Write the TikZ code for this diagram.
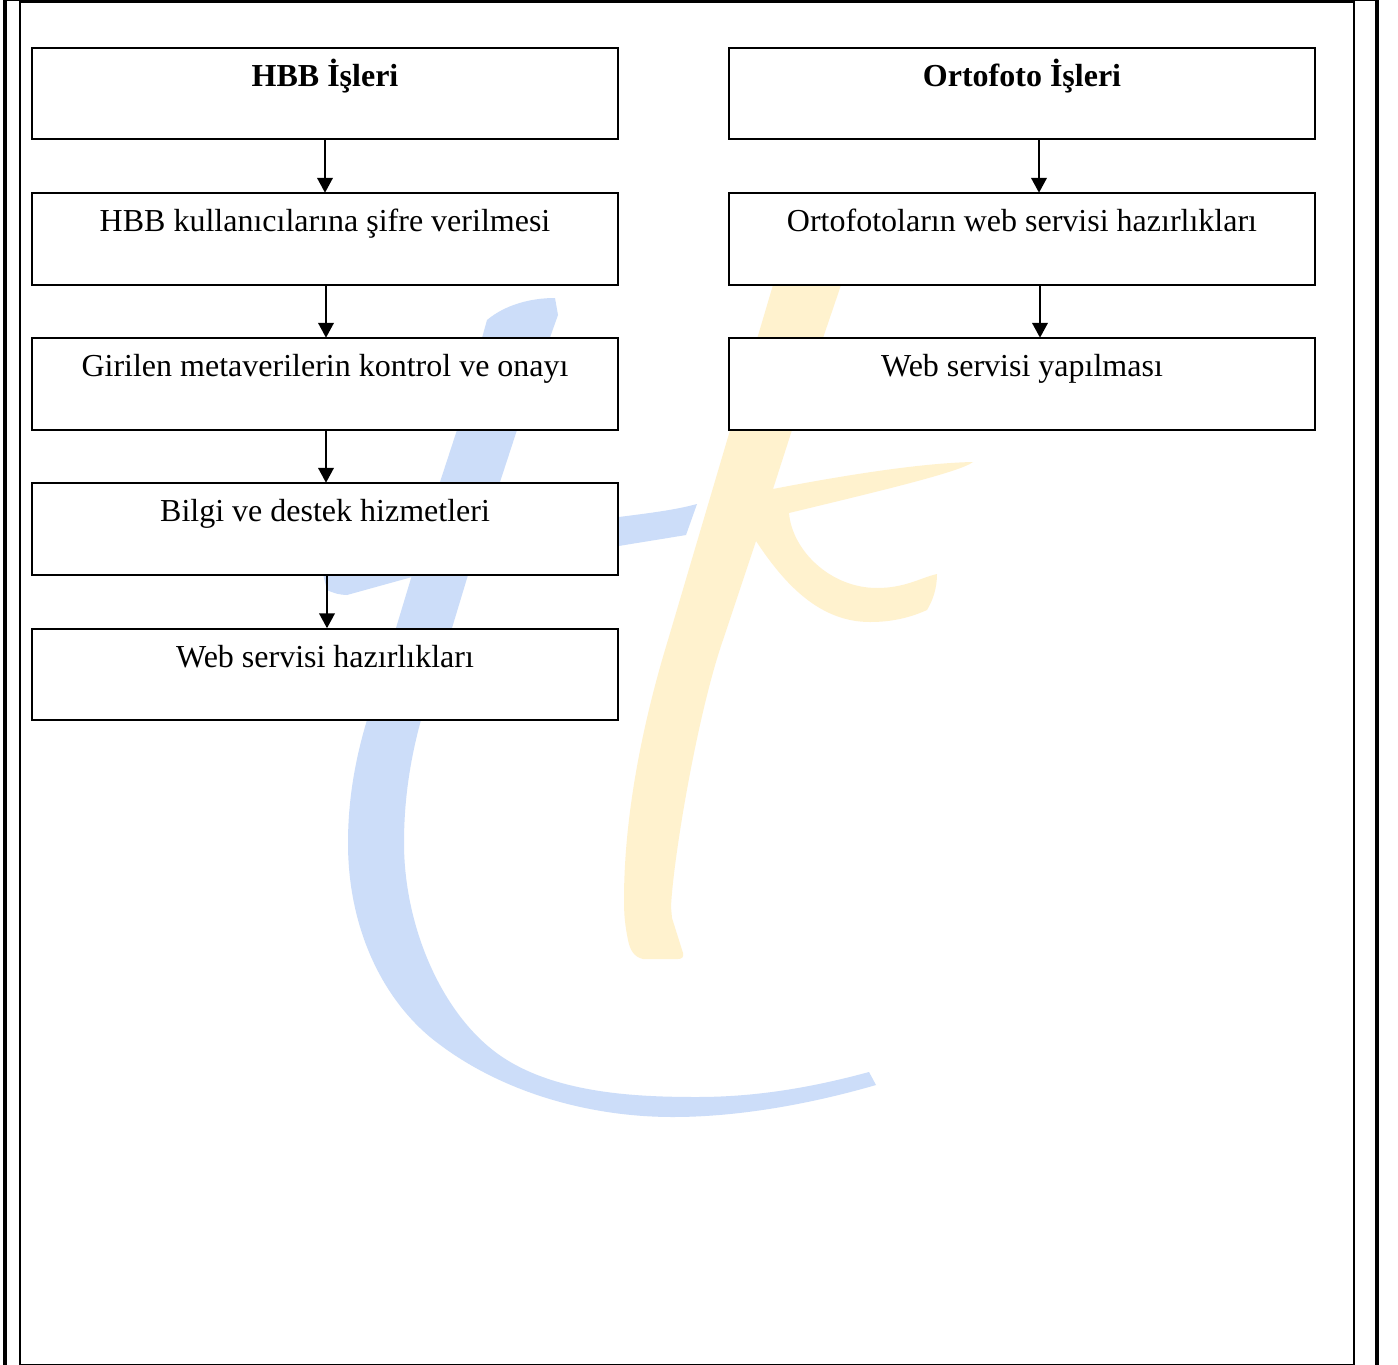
\documentclass[tikz,border=0pt]{standalone}
\usepackage{fontspec}
\setmainfont{Liberation Serif}
\usetikzlibrary{arrows.meta}
\definecolor{wmblue}{HTML}{CCDDF9}
\definecolor{wmyellow}{HTML}{FFF2CE}
\tikzset{
  flowbox/.style={draw=black,fill=white,line width=2pt,inner sep=0pt,minimum width=586pt,minimum height=91.5pt,
    text height=38pt,text depth=53.5pt,font=\fontsize{32}{36}\selectfont},
  lowtext/.style={text height=39pt,text depth=52.5pt},
  headbox/.style={flowbox,lowtext,font=\fontsize{32}{36}\selectfont\bfseries},
  flowarrow/.style={draw=black,line width=2.5pt,-{Triangle[length=15pt,width=15.5pt]},shorten >=-0.5pt},
  frameline/.style={fill=black,draw=none}
}
\begin{document}
\begin{tikzpicture}[x=1pt,y=-1pt]
\useasboundingbox (0,0) rectangle (1398,1365);
\fill[white] (0,0) rectangle (1398,1365);
% watermark: blue letter
\fill[wmblue] (487,320) .. controls (505,305) and (530,298) .. (555,298)
  -- (558,315) -- (517,430) -- (500,482) -- (468,575) -- (452,628) -- (421,720)
  .. controls (410,760) and (404,800) .. (404,843)
  .. controls (404,930) and (445,1022) .. (507,1060)
  .. controls (562,1094) and (640,1097) .. (697,1097)
  .. controls (755,1097) and (810,1088) .. (869,1072)
  -- (876,1085)
  .. controls (800,1107) and (730,1117) .. (673,1117)
  .. controls (585,1117) and (495,1090) .. (430,1037)
  .. controls (380,995) and (348,925) .. (348,843)
  .. controls (348,800) and (355,760) .. (367,720)
  -- (396,628) -- (412,575) -- (440,482) -- (457,430) -- (482,338) -- cycle;
\fill[wmblue] (697,504) -- (686,535)
  .. controls (650,541) and (630,544) .. (619,546)
  -- (412,577) -- (347,595)
  .. controls (340,595) and (333,593) .. (327,590)
  -- (322,570) -- (470,540) -- (619,517)
  .. controls (650,513) and (675,510) .. (697,504) -- cycle;
% watermark: yellow letter
\fill[wmyellow] (773,285) -- (841,285) -- (823,338) -- (792,430) -- (773,489)
  .. controls (840,476) and (920,463) .. (973,462)
  .. controls (960,472) and (880,491) .. (789,513)
  .. controls (792,550) and (830,588) .. (877,588)
  .. controls (905,588) and (920,578) .. (937,574)
  .. controls (937,588) and (933,600) .. (927,610)
  .. controls (905,620) and (885,622) .. (870,622)
  .. controls (820,622) and (785,585) .. (756,541)
  -- (723,640)
  .. controls (697,715) and (673,860) .. (671,907)
  -- (672,918) -- (683,953)
  .. controls (684,957) and (682,959) .. (678,959)
  -- (643,959)
  .. controls (634,957) and (630,950) .. (628,940)
  .. controls (625,925) and (624,915) .. (624,900)
  .. controls (624,810) and (645,715) .. (668,640)
  -- cycle;
% page frame
\fill[frameline] (3,0) rectangle (7,1365);
\fill[frameline] (19,0) rectangle (21,1365);
\fill[frameline] (1353,0) rectangle (1355,1365);
\fill[frameline] (1375,0) rectangle (1379,1365);
\fill[frameline] (3,0) rectangle (1379,1);
\fill[frameline] (19,0) rectangle (1355,3);
\fill[frameline] (19,1364) rectangle (1355,1365);
% left column
\node[headbox] (h0) at (325,93.5) {HBB İşleri};
\node[flowbox] (h1) at (325,239) {HBB kullanıcılarına şifre verilmesi};
\node[flowbox] (h2) at (325,384) {Girilen metaverilerin kontrol ve onayı};
\node[flowbox] (h3) at (325,529) {Bilgi ve destek hizmetleri};
\node[flowbox,lowtext] (h4) at (325,674.5) {Web servisi hazırlıkları};
% right column
\node[headbox] (o0) at (1022,93.5) {Ortofoto İşleri};
\node[flowbox] (o1) at (1022,239) {Ortofotoların web servisi hazırlıkları};
\node[flowbox] (o2) at (1022,384) {Web servisi yapılması};
% connectors
\draw[flowarrow] (h0.south) -- (h1.north);
\draw[flowarrow] ([xshift=1pt]h1.south) -- ([xshift=1pt]h2.north);
\draw[flowarrow] ([xshift=1pt]h2.south) -- ([xshift=1pt]h3.north);
\draw[flowarrow] ([xshift=2pt]h3.south) -- ([xshift=2pt]h4.north);
\draw[flowarrow] ([xshift=17pt]o0.south) -- ([xshift=17pt]o1.north);
\draw[flowarrow] ([xshift=18pt]o1.south) -- ([xshift=18pt]o2.north);
\end{tikzpicture}
\end{document}
